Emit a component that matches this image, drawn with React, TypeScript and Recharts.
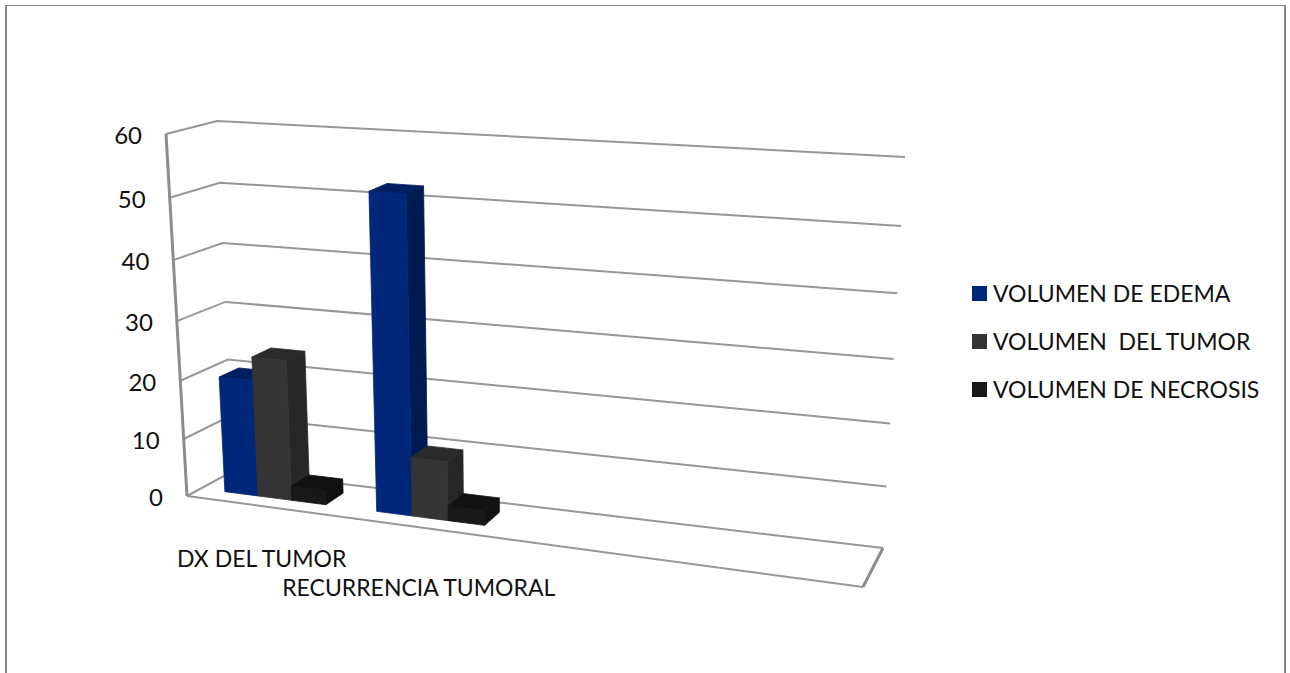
import { BarChart, Bar, XAxis, YAxis, CartesianGrid, Legend } from 'recharts'

const CATEGORIES = ['DX DEL TUMOR', 'RECURRENCIA TUMORAL', '', '']
const VALUE_TICKS = [0, 10, 20, 30, 40, 50, 60]

const EDEMA = [20, 52.5, null, null]
const TUMOR = [24, 10, null, null]
const NECROSIS = [2.5, 2.5, null, null]

const rows = CATEGORIES.map((name, i) => ({
  name,
  edema: EDEMA[i],
  tumor: TUMOR[i],
  necrosis: NECROSIS[i],
}))

const WIDTH = 1290
const HEIGHT = 673
const FONT = "Lato, 'Open Sans', sans-serif"

// flat plot rect that recharts lays out, everything is then pushed through project()
const PLOT = { left: 145, top: 100, width: 1000, height: 480 }

type Pt = [number, number]

// corners of the 3d box, front plane and back wall
const FRONT = { bl: [187, 496] as Pt, br: [863, 587] as Pt, tl: [166, 134] as Pt, tr: [883, 185] as Pt }
const BACK = { bl: [233, 471] as Pt, br: [883, 548] as Pt, tl: [217, 121] as Pt, tr: [905, 157] as Pt }
const FORESHORTEN_X = 1.15
const FORESHORTEN_Y = 1.07
const BAR_DEPTH: [number, number] = [0.3, 0.72]

const lerp = (a: number, b: number, t: number) => a + (b - a) * t
const mix = (a: Pt, b: Pt, t: number): Pt => [lerp(a[0], b[0], t), lerp(a[1], b[1], t)]

function project(u: number, v: number, d: number): Pt {
  const p = u / (u + FORESHORTEN_X * (1 - u))
  const q = v / (v + FORESHORTEN_Y * (1 - v))
  const front = mix(mix(FRONT.bl, FRONT.br, p), mix(FRONT.tl, FRONT.tr, p), q)
  const back = mix(mix(BACK.bl, BACK.br, p), mix(BACK.tl, BACK.tr, p), q)
  return mix(front, back, d)
}

const toU = (x: number) => (x - PLOT.left) / PLOT.width
const toV = (y: number) => (PLOT.top + PLOT.height - y) / PLOT.height
const pts = (list: Pt[]) => list.map(p => p.join(',')).join(' ')

const WALL = '#979797'

function Bar3D(props: any) {
  const { x, y, width, height, fill, side, top, value } = props
  if (value == null || !height) return null
  const [d0, d1] = BAR_DEPTH
  const u0 = toU(x)
  const u1 = toU(x + width)
  const v0 = toV(y + height)
  const v1 = toV(y)
  // thin same-colour stroke closes the hairline seams between faces
  return (
    <g strokeWidth={0.8} strokeLinejoin="round">
      <polygon points={pts([project(u1, v0, d0), project(u1, v0, d1), project(u1, v1, d1), project(u1, v1, d0)])} fill={side} stroke={side} />
      <polygon points={pts([project(u0, v1, d0), project(u1, v1, d0), project(u1, v1, d1), project(u0, v1, d1)])} fill={top} stroke={top} />
      <polygon points={pts([project(u0, v0, d0), project(u1, v0, d0), project(u1, v1, d0), project(u0, v1, d0)])} fill={fill} stroke={fill} />
    </g>
  )
}

function WallLine(props: any) {
  const v = toV(props.y1)
  const line = [project(0, v, 0), project(0, v, 1), project(1, v, 1)]
  return <polyline points={pts(line)} fill="none" stroke={WALL} strokeWidth={2} />
}

function BoxEdges() {
  return (
    <g fill="none" stroke="#8c8c8c">
      <line x1={FRONT.tl[0]} y1={FRONT.tl[1]} x2={FRONT.bl[0]} y2={FRONT.bl[1]} strokeWidth={3} />
      <polyline points={pts([FRONT.bl, FRONT.br])} strokeWidth={2} stroke={WALL} />
      <polyline points={pts([FRONT.br, BACK.br])} strokeWidth={3} />
    </g>
  )
}

function ValueTick({ y, payload }: any) {
  const [px, py] = project(0, toV(y), 0)
  return (
    <text x={px - 24} y={py + 10} textAnchor="end" fontSize={24} fontFamily={FONT} fill="#111">
      {payload.value}
    </text>
  )
}

function CategoryTick({ x, index, payload }: any) {
  const [px] = project(toU(x), 0, 0)
  return (
    <text x={px} y={index % 2 ? 596 : 567} textAnchor="middle" fontSize={23} fontFamily={FONT} fill="#111">
      {payload.value}
    </text>
  )
}

function LegendList({ payload }: any) {
  return (
    <div style={{ fontFamily: FONT, fontSize: 23, color: '#111' }}>
      {payload.map((entry: any) => (
        <div key={entry.value} style={{ display: 'flex', alignItems: 'center', height: 48, whiteSpace: 'pre' }}>
          <span style={{ width: 15, height: 15, background: entry.color, marginRight: 6 }} />
          {entry.value}
        </div>
      ))}
    </div>
  )
}

export default function App() {
  return (
    <div style={{ position: 'absolute', left: 0, top: 0, width: WIDTH, height: HEIGHT, overflow: 'hidden', background: '#fff' }}>
      <div style={{
        position: 'absolute', left: 5, top: 5, width: 1277, height: 680,
        borderLeft: '2px solid #868686', borderRight: '2px solid #868686', borderTop: '1.5px solid #868686',
      }} />
      <BarChart
        width={WIDTH}
        height={HEIGHT}
        data={rows}
        barCategoryGap="16.5%"
        barGap={0}
        margin={{
          left: PLOT.left - 1,
          top: PLOT.top,
          right: WIDTH - PLOT.left - PLOT.width,
          bottom: HEIGHT - PLOT.top - PLOT.height - 1,
        }}
        style={{ position: 'absolute' }}
      >
        <CartesianGrid vertical={false} horizontal={(p: any) => <WallLine key={p.key ?? p.y1} {...p} />} />
        <BoxEdges />
        <XAxis dataKey="name" height={1} interval={0} axisLine={false} tickLine={false} tick={<CategoryTick />} />
        <YAxis width={1} domain={[0, 60]} ticks={VALUE_TICKS} axisLine={false} tickLine={false} tick={<ValueTick />} />
        <Legend
          layout="vertical"
          align="center"
          verticalAlign="middle"
          itemSorter={null}
          content={<LegendList />}
          wrapperStyle={{ position: 'absolute', left: 972, top: 269, width: 300, bottom: 'auto' }}
        />
        <Bar dataKey="edema" name="VOLUMEN DE EDEMA" fill="#00277a" isAnimationActive={false}
          shape={(p: any) => <Bar3D {...p} side="#001a52" top="#001f63" />} />
        <Bar dataKey="tumor" name="VOLUMEN  DEL TUMOR" fill="#343434" isAnimationActive={false}
          shape={(p: any) => <Bar3D {...p} side="#272727" top="#2a2a2a" />} />
        <Bar dataKey="necrosis" name="VOLUMEN DE NECROSIS" fill="#181818" isAnimationActive={false}
          shape={(p: any) => <Bar3D {...p} side="#101010" top="#121212" />} />
      </BarChart>
    </div>
  )
}
